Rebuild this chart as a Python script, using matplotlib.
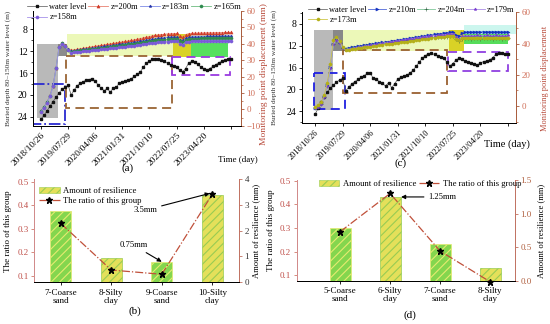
import numpy as np
import matplotlib.pyplot as plt
from matplotlib.patches import Rectangle, Patch
from matplotlib.lines import Line2D
from matplotlib.ticker import MultipleLocator

plt.rcParams['font.family'] = ['Liberation Serif', 'DejaVu Serif']
plt.rcParams['axes.linewidth'] = 0.7
plt.rcParams['hatch.linewidth'] = 0.8

# ---------------- data ----------------
# time axis of (a) and (c): sample index, labelled with dates
date_labels = ['2018/10/26', '2019/07/29', '2020/04/06', '2021/01/31',
               '2021/10/10', '2022/07/25', '2023/04/20', '']
date_pos = [0, 9, 18, 27, 36, 45, 54, 63]

# (a) water level (m, buried depth 80-150m)
wl_a = [24.4, 23.7, 22.9, 22.0, 21.2, 20.4, 19.6, 19.0, 18.6, 18.2,
        20.0, 19.1, 18.3, 17.9, 17.6, 17.3, 17.2, 17.0, 17.5, 18.2,
        18.8, 19.2, 18.8, 19.5, 18.7, 18.6, 17.8, 17.7, 17.5, 17.2,
        17.0, 16.6, 16.2, 15.8, 14.9, 14.2, 13.8, 13.5, 13.4, 13.5,
        13.6, 13.9, 14.2, 14.5, 14.7, 14.9, 15.5, 15.8, 15.2, 14.2,
        13.9, 14.0, 14.4, 14.9, 15.2, 15.5, 15.2, 14.8, 14.5, 14.1,
        13.9, 13.6, 13.5, 13.4]
# (a) monitoring point displacement (mm)
z200 = [-1.0, 1.5, 4.5, 8.5, 14.5, 25.5, 38.5, 40.5, 39.0, 37.0, 36.0,
        36.3, 36.6, 36.9, 37.2, 37.5, 37.8, 38.1, 38.4, 38.7, 39.0,
        39.3, 39.6, 39.9, 40.2, 40.5, 40.8, 41.1, 41.4, 41.7, 42.0,
        42.4, 42.8, 43.2, 43.6, 44.0, 44.4, 44.8, 45.1, 45.4, 45.6,
        45.8, 46.0, 46.1, 46.2, 46.3, 44.5, 44.0, 45.5, 46.2, 46.4,
        46.5, 46.5, 46.6, 46.6, 46.7, 46.7, 46.7, 46.8, 46.8, 46.8, 46.9, 46.9, 47.0]
z183 = [-1.2, 1.3, 4.3, 8.3, 14.3, 25.3, 38.3, 40.3, 38.8, 36.6, 35.6,
        35.8, 36.1, 36.3, 36.6, 36.8, 37.1, 37.4, 37.6, 37.9, 38.1,
        38.4, 38.6, 38.9, 39.1, 39.4, 39.6, 39.9, 40.1, 40.4, 40.7,
        41.0, 41.3, 41.6, 41.9, 42.2, 42.5, 42.8, 43.1, 43.3, 43.5,
        43.7, 43.9, 44.0, 44.1, 44.2, 42.6, 42.1, 43.5, 44.0, 44.2,
        44.3, 44.3, 44.4, 44.4, 44.5, 44.5, 44.5, 44.6, 44.6, 44.6, 44.7, 44.7, 44.8]
z165 = [-1.3, 1.2, 4.2, 8.2, 14.2, 25.2, 38.2, 40.2, 38.6, 36.3, 35.2,
        35.4, 35.7, 35.9, 36.1, 36.3, 36.6, 36.8, 37.0, 37.3, 37.5,
        37.7, 38.0, 38.2, 38.4, 38.7, 38.9, 39.1, 39.4, 39.6, 39.9,
        40.1, 40.4, 40.7, 40.9, 41.2, 41.5, 41.7, 42.0, 42.2, 42.4,
        42.6, 42.7, 42.9, 43.0, 43.1, 41.5, 41.0, 42.4, 42.9, 43.1,
        43.2, 43.2, 43.3, 43.3, 43.3, 43.4, 43.4, 43.4, 43.5, 43.5, 43.5, 43.6, 43.6]
z158 = [-1.5, 1.0, 4.0, 8.0, 14.0, 25.0, 38.0, 40.0, 38.5, 36.0, 34.5,
        34.8, 35.0, 35.2, 35.4, 35.6, 35.8, 36.0, 36.2, 36.4, 36.6,
        36.8, 37.0, 37.2, 37.4, 37.6, 37.8, 38.0, 38.2, 38.4, 38.7,
        38.9, 39.2, 39.4, 39.7, 39.9, 40.2, 40.4, 40.6, 40.8, 41.0,
        41.2, 41.3, 41.4, 41.5, 41.6, 40.0, 39.5, 40.9, 41.3, 41.5,
        41.5, 41.6, 41.6, 41.6, 41.7, 41.7, 41.7, 41.8, 41.8, 41.8, 41.8, 41.9, 41.9]

# (c) water level and displacements
wl_c = [24.6, 23.5, 22.4, 21.4, 20.5, 19.8, 19.2, 18.7, 18.3, 18.0,
        20.3, 19.6, 19.0, 18.6, 18.2, 17.8, 17.5, 17.1, 17.0, 18.0,
        18.2, 18.6, 18.9, 19.4, 18.8, 19.7, 19.0, 18.1, 17.8, 17.6,
        17.4, 17.0, 16.5, 15.8, 15.0, 14.3, 13.8, 13.5, 13.4, 13.6,
        13.8, 14.0, 14.2, 15.0, 15.7, 15.3, 14.6, 14.3, 14.5, 14.8,
        15.0, 15.2, 15.4, 15.5, 15.2, 14.9, 14.8, 14.6, 14.2, 13.6,
        13.4, 13.4, 13.5, 13.5]
z210 = [-1.5, -0.5, 1.5, 6.0, 13.5, 25.0, 40.0, 43.0, 41.0, 37.5, 36.8,
        37.2, 37.6, 38.0, 38.3, 38.6, 38.9, 39.2, 39.5, 39.8, 40.1,
        40.4, 40.7, 41.0, 41.3, 41.6, 41.9, 42.2, 42.5, 42.8, 43.1,
        43.4, 43.7, 44.0, 44.3, 44.6, 44.9, 45.2, 45.5, 45.8, 46.1,
        46.4, 46.7, 47.0, 47.3, 47.6, 45.6, 44.8, 46.6, 47.2, 47.4,
        47.4, 47.5, 47.5, 47.4, 47.5, 47.6, 47.5, 47.5, 47.6, 47.5, 47.4, 47.5, 47.6]
z204 = [-1.5, -0.5, 1.5, 6.0, 13.0, 24.5, 39.5, 42.5, 40.5, 37.0, 36.3,
        36.6, 37.0, 37.3, 37.6, 37.9, 38.2, 38.5, 38.8, 39.0, 39.3,
        39.6, 39.9, 40.2, 40.5, 40.8, 41.0, 41.3, 41.6, 41.9, 42.2,
        42.5, 42.7, 42.9, 43.1, 43.3, 43.5, 43.7, 43.9, 44.0, 44.2,
        44.3, 44.4, 44.5, 44.6, 44.8, 42.6, 41.8, 43.0, 43.3, 43.3,
        43.2, 43.3, 43.4, 43.2, 43.3, 43.4, 43.3, 43.2, 43.4, 43.3, 43.2, 43.3, 43.4]
z179 = [-1.5, -0.5, 1.5, 6.0, 13.0, 24.5, 39.5, 42.5, 40.5, 37.0, 36.0,
        36.4, 36.8, 37.2, 37.5, 37.9, 38.2, 38.6, 38.9, 39.2, 39.5,
        39.9, 40.2, 40.5, 40.8, 41.1, 41.4, 41.7, 42.0, 42.3, 42.6,
        42.9, 43.2, 43.5, 43.8, 44.1, 44.4, 44.6, 44.9, 45.1, 45.3,
        45.5, 45.7, 45.9, 46.1, 46.3, 44.0, 43.2, 44.8, 45.0, 45.1,
        45.0, 45.1, 45.2, 45.0, 45.1, 45.2, 45.1, 45.0, 45.2, 45.1, 45.0, 45.1, 45.2]
z173 = [-0.5, 0.5, 2.5, 7.0, 15.0, 27.0, 42.0, 44.5, 41.5, 38.0, 35.8,
        36.0, 36.3, 36.6, 36.9, 37.2, 37.5, 37.8, 38.0, 38.3, 38.6,
        38.9, 39.1, 39.4, 39.7, 40.0, 40.2, 40.5, 40.8, 41.0, 41.3,
        41.6, 41.8, 42.1, 42.4, 42.6, 42.9, 43.2, 43.4, 43.7, 44.0,
        44.2, 44.4, 44.6, 44.9, 45.1, 42.8, 42.0, 43.3, 43.6, 43.7,
        43.6, 43.7, 43.8, 43.6, 43.7, 43.8, 43.7, 43.6, 43.8, 43.7, 43.6, 43.7, 43.8]

# stage regions: (start idx, end idx, top depth, bottom depth, colour)
regions_a = [(-1.3, 5.6, 10.7, 24.2, '#b9b9b9'), (5.6, 8.5, 10.7, 12.9, '#8c8c8c'),
             (8.5, 43.9, 8.9, 12.9, '#ecf8b8'), (43.9, 49.8, 8.9, 13.1, '#d9d226'),
             (49.8, 62.1, 8.9, 10.6, '#d4f6e6'), (49.8, 62.1, 10.6, 13.1, '#56e05e')]
boxes_a = [(-2.6, 8.0, 18.0, 25.3, '#2a2ad0', '-.'), (8.3, 43.5, 12.9, 22.3, '#9a6434', (0, (5, 3))),
           (43.5, 62.8, 13.1, 16.4, '#9a3ae0', (0, (5, 3)))]
regions_c = [(-0.3, 5.9, 9.1, 23.8, '#b9b9b9'), (5.9, 9.2, 9.1, 13.0, '#888888'),
             (9.2, 43.6, 9.1, 13.0, '#ecf8b8'), (43.6, 48.5, 9.1, 13.0, '#d9d226'),
             (48.5, 65.6, 8.2, 9.9, '#ccf6ee'), (48.5, 63.0, 9.9, 11.6, '#56dc5a')]
boxes_c = [(-0.3, 9.8, 17.0, 23.7, '#2020e0', (0, (5, 3))), (9.2, 43.0, 12.8, 20.6, '#9a6030', (0, (5, 3))),
           (43.3, 63.0, 13.1, 16.6, '#9040e0', (0, (5, 3)))]

# (b), (d) resilience bars (mm) and ratio of the group
cats_b = ['7-Coarse\nsand', '8-Silty\nclay', '9-Coarse\nsand', '10-Silty\nclay']
resil_b = [2.78, 0.93, 0.78, 3.38]
ratio_b = [0.323, 0.125, 0.107, 0.446]
cats_d = ['5-Coarse\nsand', '6-Silty\nclay', '7-Coarse\nsand', '8-Silty\nclay']
resil_d = [0.79, 1.25, 0.55, 0.19]
ratio_d = [0.284, 0.446, 0.202, 0.072]

AX_RED = '#a85a3a'
TXT_RED = '#d0705a'
LBL_RED = '#b84a3a'

fig = plt.figure(figsize=(5.5, 3.24), dpi=100)


def px_axes(l, r, t, b):
    return fig.add_axes([l / 550, 1 - b / 324, (r - l) / 550, (b - t) / 324])


def time_panel(ax, wl, curves, regions, boxes, date_fs):
    x = np.arange(len(wl))
    for x0, x1, y0, y1, c in regions:
        ax.add_patch(Rectangle((x0, y0), x1 - x0, y1 - y0, facecolor=c, edgecolor='none', zorder=0))
    for x0, x1, y0, y1, c, ls in boxes:
        ax.add_patch(Rectangle((x0, y0), x1 - x0, y1 - y0, facecolor='none', edgecolor=c,
                               linestyle=ls, lw=1.3, zorder=2))
    h_wl, = ax.plot(x, wl, color='#555555', lw=0.5, marker='s', ms=1.8, mfc='#111111',
                    mec='#111111', label='water level', zorder=3)
    ax2 = ax.twinx()
    handles = [h_wl]
    for vals, lab, lc, mk, mc in curves:
        h, = ax2.plot(x, vals, color=lc, lw=0.6, marker=mk, ms=2.2, mfc=mc, mec=mc, mew=0.4, label=lab)
        handles.append(h)
    ax.set_xticks(date_pos)
    ax.set_xticklabels(date_labels, rotation=45, ha='right', va='top', rotation_mode='anchor',
                       fontsize=date_fs)
    ax.tick_params(axis='both', direction='out', length=2.5, width=0.6, pad=1.5)
    ax.tick_params(axis='y', labelsize=7)
    ax.tick_params(axis='y', which='minor', length=1.5, width=0.5)
    ax.yaxis.set_major_locator(MultipleLocator(4))
    ax.yaxis.set_minor_locator(MultipleLocator(2))
    ax.spines['top'].set_visible(False)
    ax.spines['right'].set_visible(False)
    ax2.spines['top'].set_visible(False)
    ax2.spines['right'].set_color(AX_RED)
    ax2.tick_params(axis='y', colors=AX_RED, labelcolor=TXT_RED, labelsize=6.5, direction='out',
                    length=2.5, width=0.6, pad=1.5)
    ax2.tick_params(axis='y', which='minor', length=1.5, width=0.5, colors=AX_RED)
    # legend fills column by column: put the 5th entry second so rows read left to right
    order = [handles[0], handles[4], handles[1], handles[2], handles[3]]
    return ax2, order


# ---------------- (a) ----------------
axa = px_axes(33, 241, 11, 125.7)
curves_a = [(z200, 'z=200m', '#e88070', '^', '#d03a28'),
            (z183, 'z=183m', '#7f8ce6', '*', '#2232a8'),
            (z165, 'z=165m', '#6cbb80', 'o', '#2e8a4e'),
            (z158, 'z=158m', '#a692ea', 'o', '#7a5ad8')]
axa2, ha = time_panel(axa, wl_a, curves_a, regions_a, boxes_a, 6.8)
axa.set_xlim(-2.66, 66.4)
axa.set_ylim(25.6, 4.7)
axa2.set_ylim(-10, 60)
axa2.yaxis.set_major_locator(MultipleLocator(10))
axa2.yaxis.set_minor_locator(MultipleLocator(5))
axa.set_ylabel('Buried depth 80–150m water level (m)', fontsize=5.3, color='#333333')
axa.yaxis.set_label_coords(-0.105, 0.5)
axa2.set_ylabel('Monitoring point displacement (mm)', fontsize=6.8, color=LBL_RED)
axa2.yaxis.set_label_coords(1.09, 0.45)
axa2.legend(handles=ha, loc='upper left', bbox_to_anchor=(-0.03, 1.07), ncol=4, frameon=False,
            fontsize=6, handlelength=2.4, handletextpad=0.3, columnspacing=0.15,
            borderpad=0, borderaxespad=0, labelspacing=0.3)
fig.text(238 / 550, 1 - 160 / 324, 'Time (day)', ha='center', va='center', fontsize=6.5)
fig.text(128 / 550, 1 - 168 / 324, '(a)', ha='center', va='center', fontsize=8)

# ---------------- (c) ----------------
axc = px_axes(302, 516, 12, 123)
curves_c = [(z210, 'z=210m', '#5068d8', '>', '#1432c0'),
            (z204, 'z=204m', '#80c89a', '+', '#2f5e40'),
            (z179, 'z=179m', '#ac8ee6', '*', '#7a3ed0'),
            (z173, 'z=173m', '#cdc648', 'o', '#b4b018')]
axc2, hc = time_panel(axc, wl_c, curves_c, regions_c, boxes_c, 6.0)
axc.set_xlim(-4.26, 65.6)
axc.set_ylim(26.2, 5.8)
axc2.set_ylim(-10.9, 60.2)
axc2.yaxis.set_major_locator(MultipleLocator(20))
axc2.yaxis.set_minor_locator(MultipleLocator(10))
axc.set_ylabel('Buried depth 80–150m water level (m)', fontsize=5.3, color='#333333')
axc.yaxis.set_label_coords(-0.115, 0.5)
axc2.set_ylabel('Monitoring point displacement', fontsize=6, color=LBL_RED)
axc2.yaxis.set_label_coords(1.115, 0.4)
axc2.legend(handles=hc, loc='upper left', bbox_to_anchor=(0.03, 1.055), ncol=4, frameon=False,
            fontsize=6, handlelength=2.2, handletextpad=0.3, columnspacing=0.1,
            borderpad=0, borderaxespad=0, labelspacing=0.3)
fig.text(507 / 550, 1 - 144 / 324, 'Time (day)', ha='center', va='center', fontsize=7.5)
fig.text(401 / 550, 1 - 163 / 324, '(c)', ha='center', va='center', fontsize=8)


# ---------------- (b) and (d) ----------------
def bar_panel(ax, cats, resil, ratio):
    x = np.arange(len(cats))
    ax2 = ax.twinx()
    faces = ['#84d64e', '#e4e05a', '#84d64e', '#e4e05a']
    hatch_c = ['#e6ea70', '#98cc52', '#e6ea70', '#98cc52']
    ax2.bar(x, resil, width=0.42, color=faces, edgecolor=hatch_c, hatch='////', lw=0.5)
    ax.plot(x, ratio, color='#c0503a', ls='-.', lw=0.9, marker='*', ms=4.5, mfc='k', mec='k',
            clip_on=False)
    ax.set_zorder(ax2.get_zorder() + 1)
    ax.patch.set_visible(False)
    ax.set_xticks(x)
    ax.set_xticklabels(cats, fontsize=6.5, linespacing=1.0)
    ax.tick_params(axis='x', direction='out', length=2.5, width=0.6, pad=2)
    ax.tick_params(axis='y', colors='#d07a6a', labelcolor='#c0504a', labelsize=6.5, direction='out',
                   length=2.5, width=0.6, pad=1.5)
    ax.yaxis.set_major_locator(MultipleLocator(0.1))
    for a in (ax, ax2):
        a.spines['top'].set_visible(False)
    ax.spines['left'].set_color('#d89090')
    ax.spines['right'].set_visible(False)
    ax2.spines['right'].set_color('#c07060')
    ax.set_ylabel('The ratio of this group', fontsize=6.5)
    ax2.set_ylabel('Amount of resilience (mm)', fontsize=6.2)
    legend_h = [Patch(facecolor='#e4e05a', edgecolor='#98cc52', hatch='////', lw=0.4),
                Line2D([], [], color='#c0503a', ls='-.', lw=0.9, marker='*', ms=4.5, mfc='k', mec='k')]
    return ax2, legend_h


axb = px_axes(34, 239, 179.3, 282.3)
axb2, lh = bar_panel(axb, cats_b, resil_b, ratio_b)
axb.set_xlim(-0.53, 3.53)
axb.set_ylim(0.073, 0.51)
axb2.set_ylim(-0.02, 4.0)
axb2.yaxis.set_major_locator(MultipleLocator(1))
axb2.tick_params(axis='y', colors='#c07060', labelcolor='#333333', labelsize=6.5, direction='out',
                 length=2.5, width=0.6, pad=1.5)
axb.yaxis.set_label_coords(-0.105, 0.5)
axb2.yaxis.set_label_coords(1.065, 0.5)
axb.legend(lh, ['Amount of resilience', 'The ratio of this group'], loc='upper left',
           bbox_to_anchor=(0.025, 0.93), frameon=False, fontsize=6.2, handlelength=2.4,
           handletextpad=0.4, borderpad=0, borderaxespad=0, labelspacing=0.3)
axb2.annotate('3.5mm', xy=(2.95, 3.45), xytext=(1.68, 2.8), fontsize=6.2, ha='center', va='center',
              arrowprops=dict(arrowstyle='-|>', color='k', lw=0.8, mutation_scale=6, shrinkA=1, shrinkB=0))
axb2.annotate('0.75mm', xy=(2.0, 0.78), xytext=(1.44, 1.43), fontsize=6.2, ha='center', va='center',
              arrowprops=dict(arrowstyle='-|>', color='k', lw=0.8, mutation_scale=6, shrinkA=1, shrinkB=0))
fig.text(135 / 550, 1 - 311 / 324, '(b)', ha='center', va='center', fontsize=8)

axd = px_axes(296.7, 515, 180, 281)
axd2, lh = bar_panel(axd, cats_d, resil_d, ratio_d)
axd.set_xlim(-0.87, 3.5)
axd.set_ylim(0.075, 0.503)
axd2.set_ylim(-0.005, 1.503)
axd2.yaxis.set_major_locator(MultipleLocator(0.5))
axd2.yaxis.set_major_formatter('{x:.1f}')
axd2.tick_params(axis='y', colors='#c07060', labelcolor='#b06040', labelsize=6.5, direction='out',
                 length=2.5, width=0.6, pad=1.5)
axd.yaxis.set_label_coords(-0.1, 0.5)
axd2.yaxis.set_label_coords(1.1, 0.5)
axd.legend(lh, ['Amount of resilience', 'The ratio of this group'], loc='upper left',
           bbox_to_anchor=(0.1, 1.0), ncol=2, frameon=False, fontsize=6.2, handlelength=2.4,
           handletextpad=0.4, columnspacing=0.3, borderpad=0, borderaxespad=0)
axd2.annotate('1.25mm', xy=(1.22, 1.25), xytext=(2.04, 1.25), fontsize=6.2, ha='center', va='center',
              arrowprops=dict(arrowstyle='-|>', color='k', lw=0.8, mutation_scale=6, shrinkA=1, shrinkB=0))
fig.text(410 / 550, 1 - 315 / 324, '(d)', ha='center', va='center', fontsize=8)

fig.savefig('out.png', dpi=100)
